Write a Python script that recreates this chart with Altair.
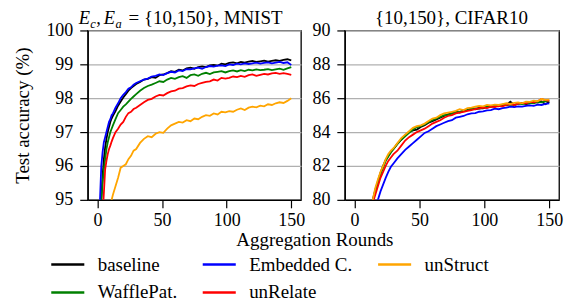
import altair as alt
import pandas as pd

SERIES = ["baseline", "WafflePat.", "Embedded C.", "unRelate", "unStruct"]
COLORS = {"baseline": "#000000", "Embedded C.": "#0000ff", "unStruct": "#ffa500",
          "WafflePat.": "#008000", "unRelate": "#ff0000"}

ROUNDS_M = [0, 1, 2, 3, 4, 5, 6, 7, 8, 9, 10, 11, 12, 14, 16, 18, 20, 22, 24, 26, 28, 30,
            33, 36, 39, 42, 45, 48, 51, 54, 57, 60, 63, 66, 69, 72, 75, 78, 81, 84, 87, 90,
            93, 96, 99, 102, 105, 108, 111, 114, 117, 120, 123, 126, 129, 132, 135, 138,
            141, 144, 147, 150]

M_BASELINE = [60, 85, 92, 95.0, 95.7, 96.2, 96.55, 96.8, 97.0, 97.15, 97.3, 97.4, 97.48,
              97.62, 97.78, 97.9, 98.02, 98.12, 98.22, 98.3, 98.36, 98.42, 98.48, 98.55,
              98.57, 98.62, 98.6, 98.68, 98.7, 98.74, 98.8, 98.78, 98.84, 98.82, 98.88, 98.9,
              98.87, 98.92, 98.94, 98.92, 98.97, 98.98, 98.96, 99.02, 99.0, 99.04, 99.06,
              99.03, 99.07, 99.05, 99.08, 99.1, 99.07, 99.09, 99.11, 99.08, 99.1, 99.12,
              99.1, 99.13, 99.15, 99.12]
M_EMBEDDED = [60, 90, 95.0, 96.0, 96.4, 96.7, 96.85, 97.0, 97.15, 97.3, 97.38, 97.5, 97.55,
              97.72, 97.85, 98.0, 98.1, 98.18, 98.28, 98.32, 98.4, 98.45, 98.5, 98.55, 98.58,
              98.64, 98.66, 98.7, 98.68, 98.74, 98.78, 98.76, 98.82, 98.8, 98.86, 98.85,
              98.88, 98.9, 98.87, 98.92, 98.95, 98.93, 98.96, 98.97, 98.95, 99.0, 98.98,
              99.02, 99.0, 99.03, 99.01, 99.03, 99.05, 99.02, 99.04, 99.06, 99.03, 99.05,
              99.07, 99.04, 99.06, 98.98]
M_WAFFLE = [60, 82, 90, 95.0, 95.5, 95.9, 96.2, 96.5, 96.7, 96.85, 97.0, 97.1, 97.2, 97.38,
            97.56, 97.65, 97.75, 97.82, 97.9, 97.98, 98.05, 98.12, 98.22, 98.3, 98.36, 98.4,
            98.45, 98.5, 98.48, 98.55, 98.6, 98.57, 98.62, 98.65, 98.6, 98.68, 98.7, 98.66,
            98.72, 98.75, 98.71, 98.76, 98.78, 98.8, 98.76, 98.8, 98.82, 98.79, 98.83, 98.8,
            98.84, 98.82, 98.85, 98.83, 98.84, 98.86, 98.83, 98.85, 98.87, 98.84, 98.88,
            98.92]
M_UNRELATE = [60, 80, 88, 92, 94.5, 95.2, 95.9, 96.15, 96.35, 96.5, 96.6, 96.72, 96.82,
              97.0, 97.1, 97.22, 97.3, 97.45, 97.56, 97.6, 97.68, 97.72, 97.8, 97.88, 97.95,
              97.98, 98.05, 98.1, 98.08, 98.15, 98.2, 98.22, 98.28, 98.3, 98.35, 98.38,
              98.36, 98.42, 98.45, 98.48, 98.5, 98.55, 98.52, 98.6, 98.58, 98.6, 98.64,
              98.62, 98.66, 98.63, 98.68, 98.7, 98.66, 98.69, 98.72, 98.7, 98.73, 98.75,
              98.72, 98.74, 98.72, 98.69]
M_UNSTRUCT = [50, 60, 70, 78, 84, 88, 90.5, 92, 93, 93.8, 94.5, 95.0, 95.15, 95.4, 95.65,
              95.95, 96.0, 96.05, 96.2, 96.3, 96.45, 96.5, 96.68, 96.8, 96.88, 96.85, 96.95,
              97.0, 96.98, 97.1, 97.2, 97.25, 97.3, 97.28, 97.35, 97.32, 97.4, 97.38, 97.45,
              97.5, 97.48, 97.55, 97.52, 97.6, 97.58, 97.62, 97.6, 97.66, 97.7, 97.65, 97.72,
              97.75, 97.73, 97.78, 97.76, 97.82, 97.8, 97.85, 97.88, 97.86, 97.92, 98.0]

ROUNDS_C = [0, 5, 10, 12, 14, 16, 18, 20, 22, 24, 26, 28, 30, 33, 36, 39, 42, 45, 48, 51,
            54, 57, 60, 63, 66, 69, 72, 75, 78, 81, 84, 87, 90, 93, 96, 99, 102, 105, 108,
            111, 114, 117, 120, 123, 126, 129, 132, 135, 138, 141, 144, 147, 150]

C_BASELINE = [40, 70, 77.5, 78.8, 80.0, 80.6, 81.1, 81.6, 82.0, 82.35, 82.6, 82.85, 83.0,
              83.3, 83.55, 83.8, 84.0, 84.1, 84.15, 84.3, 84.4, 84.55, 84.65, 84.75, 84.85,
              84.95, 85.05, 85.1, 85.2, 85.15, 85.25, 85.3, 85.4, 85.35, 85.42, 85.4, 85.48,
              85.55, 85.5, 85.58, 85.62, 85.6, 85.8, 85.6, 85.68, 85.72, 85.65, 85.7, 85.78,
              85.74, 85.8, 85.65, 85.78]
C_EMBEDDED = [40, 68, 75.5, 77.2, 78.8, 79.4, 80.0, 80.5, 80.9, 81.3, 81.65, 81.95, 82.15,
              82.45, 82.7, 82.95, 83.15, 83.35, 83.55, 83.75, 83.95, 84.05, 84.2, 84.35,
              84.45, 84.55, 84.65, 84.7, 84.85, 84.9, 84.95, 85.05, 85.1, 85.12, 85.2, 85.22,
              85.28, 85.3, 85.38, 85.35, 85.42, 85.45, 85.5, 85.48, 85.52, 85.5, 85.55,
              85.58, 85.55, 85.62, 85.6, 85.66, 85.7]
C_WAFFLE = [40, 70, 77.3, 78.7, 79.9, 80.5, 81.0, 81.5, 81.9, 82.3, 82.55, 82.8, 83.0, 83.3,
            83.55, 83.75, 83.95, 84.15, 84.3, 84.35, 84.45, 84.6, 84.7, 84.8, 84.9, 85.0,
            85.0, 85.1, 85.15, 85.2, 85.28, 85.3, 85.35, 85.4, 85.38, 85.45, 85.5, 85.48,
            85.55, 85.52, 85.6, 85.58, 85.62, 85.6, 85.68, 85.65, 85.7, 85.72, 85.7, 85.78,
            85.75, 85.82, 85.85]
C_UNRELATE = [40, 69, 77, 78.5, 79.8, 80.3, 80.8, 81.3, 81.65, 82.0, 82.3, 82.5, 82.7, 82.9,
              83.2, 83.5, 83.7, 83.85, 84.0, 84.1, 84.2, 84.35, 84.5, 84.6, 84.7, 84.85,
              84.95, 85.0, 85.1, 85.15, 85.2, 85.25, 85.3, 85.35, 85.4, 85.45, 85.42, 85.5,
              85.48, 85.55, 85.52, 85.6, 85.65, 85.6, 85.68, 85.72, 85.7, 85.78, 85.75,
              85.82, 85.95, 85.88, 85.85]
C_UNSTRUCT = [40, 70, 77.5, 78.9, 80.0, 80.7, 81.2, 81.65, 82.0, 82.4, 82.7, 82.9, 83.05,
              83.35, 83.65, 83.85, 84.05, 84.25, 84.35, 84.4, 84.5, 84.65, 84.8, 84.85, 85.0,
              85.1, 85.15, 85.2, 85.25, 85.35, 85.3, 85.42, 85.45, 85.5, 85.55, 85.52, 85.6,
              85.58, 85.62, 85.6, 85.65, 85.7, 85.66, 85.72, 85.75, 85.7, 85.8, 85.78, 85.85,
              85.82, 85.95, 85.9, 85.92]

MNIST_VALUES = {"baseline": M_BASELINE, "WafflePat.": M_WAFFLE, "Embedded C.": M_EMBEDDED,
                "unRelate": M_UNRELATE, "unStruct": M_UNSTRUCT}
CIFAR_VALUES = {"baseline": C_BASELINE, "WafflePat.": C_WAFFLE, "Embedded C.": C_EMBEDDED,
                "unRelate": C_UNRELATE, "unStruct": C_UNSTRUCT}


def long_frame(rounds, values):
    rows = []
    for s in SERIES:
        for r, v in zip(rounds, values[s]):
            rows.append({"round": r, "acc": v, "series": s})
    return pd.DataFrame(rows)


df_m = long_frame(ROUNDS_M, MNIST_VALUES)
df_c = long_frame(ROUNDS_C, CIFAR_VALUES)

FONT = "Liberation Serif"
W, H = 214, 170
TS = 18.5

color = alt.Color(
    "series:N",
    scale=alt.Scale(domain=SERIES, range=[COLORS[s] for s in SERIES]),
    sort=SERIES,
    legend=alt.Legend(
        title=None, orient="none", legendX=-38, legendY=217, columns=3,
        symbolType="stroke", symbolSize=1100, symbolStrokeWidth=2.5,
        labelFont=FONT, labelFontSize=19, labelColor="black", labelOffset=12,
        columnPadding=20, rowPadding=0,
    ),
)

x_axis = alt.Axis(values=[0, 50, 100, 150], title=None, grid=False, labelPadding=4)


def panel(df, ydom, yvals, ytitle):
    lines = alt.Chart(df).mark_line(clip=True, strokeWidth=1.8).encode(
        x=alt.X("round:Q", scale=alt.Scale(domain=[-7.5, 157.5], nice=False), axis=x_axis),
        y=alt.Y("acc:Q", scale=alt.Scale(domain=ydom, nice=False, zero=False),
                axis=alt.Axis(values=yvals, title=ytitle, grid=True, labelPadding=7)),
        color=color,
        order=alt.Order("round:Q"),
    )
    return lines


def txt(s, x, y, size=19, font=FONT, style="normal", align="left"):
    return alt.Chart(pd.DataFrame({"t": [s]})).mark_text(
        font=font, fontSize=size, fontStyle=style, align=align, baseline="alphabetic",
        color="black",
    ).encode(text="t:N", x=alt.value(x), y=alt.value(y))


left_title = [
    txt("E", -9, -6, TS, style="italic"),
    txt("c", 2.5, -2.5, 12.5, style="italic"),
    txt(",", 8.5, -6, TS),
    txt("E", 16, -6, TS, style="italic"),
    txt("a", 28, -2.5, 12.5, style="italic"),
    txt("= {10,150}, MNIST", 41, -6, TS + 0.5),
    txt("Aggregation Rounds", 228, H + 46, align="center"),
]

left = alt.layer(panel(df_m, [95, 100], [95, 96, 97, 98, 99, 100], "Test accuracy (%)"),
                 *left_title).properties(width=W, height=H)
right = alt.layer(panel(df_c, [80, 90], [80, 82, 84, 86, 88, 90], None),
                  txt("{10,150}, CIFAR10", 107, -6, TS + 0.5, align="center")).properties(width=215, height=H)

chart = alt.hconcat(left, right, spacing=44, bounds="flush").properties(
    padding={"left": 5, "top": 0, "right": 5, "bottom": 0}
).configure_view(
    stroke="black", strokeWidth=1.3
).configure_axis(
    labelFont=FONT, labelFontSize=18, labelColor="black", titleFont=FONT,
    titleFontSize=19, titleFontWeight="normal", titleColor="black",
    domainColor="black", domainWidth=1.3, tickColor="black", tickWidth=1.2, tickSize=8,
    gridColor="#b0b0b0", gridWidth=1.3, titlePadding=13,
)

chart.save("out.html", embed_options={"renderer": "svg", "actions": False})
